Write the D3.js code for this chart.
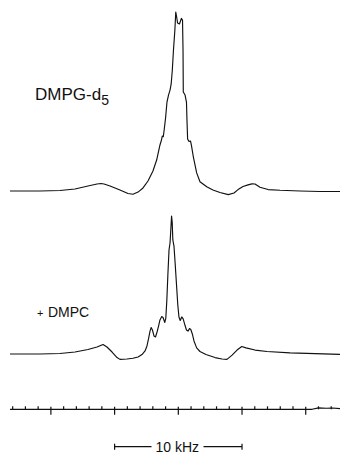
<!DOCTYPE html>
<html>
<head>
<meta charset="utf-8">
<script src="https://cdn.jsdelivr.net/npm/d3@7"></script>
<style>
  body { margin: 0; background: #fff; }
  .trace { fill: none; stroke: #111; stroke-width: 1.15; stroke-linejoin: round; }
  .lbl { font-family: "Liberation Sans", Arial, sans-serif; fill: #111; }
</style>
</head>
<body>
<div id="target"></div>
<script>
// spectra: frequency offset (kHz) and intensity (top peak = 100)
var topFreq = [-13.21,-10.86,-9.29,-8.11,-7.09,-6.38,-6.07,-5.83,-5.36,-4.58,-3.95,-3.56,-3.16,-2.77,-2.38,-1.99,-1.70,-1.44,-1.32,-1.26,-1.18,-1.12,-1.00,-0.89,-0.77,-0.65,-0.56,-0.47,-0.38,-0.27,-0.20,-0.13,-0.06,0.09,0.24,0.33,0.37,0.39,0.53,0.64,0.68,0.73,0.84,0.96,1.04,1.18,1.44,1.70,2.23,2.72,3.27,3.92,4.37,4.69,5.08,5.47,5.78,6.02,6.41,7.04,7.98,9.55,11.12,12.69];
var topInt  = [0,0,0.3,1.1,2.8,3.9,4.2,3.9,2.8,0.6,-1.4,-1.8,-0.6,1.7,5.6,11.2,17.3,25.7,28.5,30.7,30.3,33.5,40.8,49.7,53.6,56.4,59.8,67.6,78.8,89.9,100,97.2,93.9,93.3,96.4,95.5,78.8,55.3,53.6,49.7,39.7,29.1,27.7,27.9,25.1,19.0,10.1,5.2,2.4,0.6,-0.8,-2.0,-1.1,0.8,2.5,3.4,4.0,3.9,2.1,0.8,0.4,0,-0.3,-0.3];

var botFreq = [-13.21,-10.86,-9.29,-8.11,-7.09,-6.38,-5.91,-5.60,-5.20,-4.81,-4.58,-4.03,-3.56,-3.16,-2.85,-2.61,-2.46,-2.34,-2.22,-2.13,-2.03,-1.91,-1.79,-1.67,-1.55,-1.44,-1.30,-1.20,-1.06,-0.98,-0.90,-0.82,-0.73,-0.65,-0.59,-0.53,-0.48,-0.43,-0.34,-0.24,-0.14,-0.04,0.05,0.15,0.27,0.38,0.53,0.64,0.76,0.88,0.98,1.10,1.23,1.44,1.70,2.17,2.88,3.43,3.82,4.22,4.61,4.98,5.31,6.02,6.96,8.77,12.69];
var botInt  = [0,0,0.3,1.1,2.5,3.9,5.3,3.9,1.1,-2.0,-3.0,-2.8,-2.4,-1.7,-0.3,1.7,4.5,8.4,12.8,14.8,13.4,10.1,9.5,12.3,15.6,19.0,20.9,20.4,17.6,20.1,30.2,44.1,58.1,62.0,69.3,77.1,73.7,63.7,60.3,49.7,38.5,27.4,20.7,18.7,20.7,19.6,15.9,13.4,12.8,14.2,13.7,11.2,7.3,3.4,1.4,-0.3,-2.0,-2.8,-3.0,-0.6,2.2,4.2,3.4,2.2,1.4,0.6,-0.2];

// frequency marker trace
var markFreq = [-13.21,10.5,11.0,11.6,12.1,12.69];
var markInt  = [0,0,0.8,0.6,0.7,0.4];
var majorTicks = [-10,-5,0,5,10];
var minorTicks = [-13,-12,-11,-9,-8,-7,-6,-4,-3,-2,-1,1,2,3,4,6,7,8,9,11,12];

var width = 340, height = 455;

// x scale in kHz
var xScale = d3.scaleLinear()
    .domain([-13.21, 12.69])
    .range([10, 340]);

// one intensity scale per trace, same gain
function yFor(base) {
    return d3.scaleLinear().domain([0, 100]).range([base, base - 179]);
}
var yTop = yFor(191), yBot = yFor(354), yMark = yFor(409.3);

var svg = d3.select("#target").append("svg")
    .attr("width", width)
    .attr("height", height);

function drawTrace(freq, inten, yScale) {
    var pts = freq.map(function(f, i) { return [f, inten[i]]; });
    var line = d3.line()
        .x(function(d) { return xScale(d[0]); })
        .y(function(d) { return yScale(d[1]); });
    svg.append("path")
        .datum(pts)
        .attr("class", "trace")
        .attr("d", line);
}

drawTrace(topFreq, topInt, yTop);
drawTrace(botFreq, botInt, yBot);
drawTrace(markFreq, markInt, yMark);

// tick marks on the marker trace
svg.selectAll(".minor")
    .data(minorTicks)
    .enter().append("line")
    .attr("x1", function(d) { return xScale(d); })
    .attr("x2", function(d) { return xScale(d); })
    .attr("y1", yMark(0) - 3)
    .attr("y2", yMark(0))
    .attr("stroke", "#111").attr("stroke-width", 1.2);

svg.selectAll(".major")
    .data(majorTicks)
    .enter().append("line")
    .attr("x1", function(d) { return xScale(d); })
    .attr("x2", function(d) { return xScale(d); })
    .attr("y1", yMark(0) - 2.5)
    .attr("y2", yMark(0) + 5.5)
    .attr("stroke", "#111").attr("stroke-width", 1.2);

// labels
var t1 = svg.append("text").attr("class", "lbl")
    .attr("x", 35).attr("y", 100)
    .style("font-size", "17px");
t1.append("tspan").text("DMPG-d");
t1.append("tspan").attr("dy", 5).style("font-size", "14px").text("5");

svg.append("text").attr("class", "lbl")
    .attr("x", 37).attr("y", 316.5)
    .style("font-size", "11px").text("+");
svg.append("text").attr("class", "lbl")
    .attr("x", 48).attr("y", 316.7)
    .style("font-size", "14px").text("DMPC");

// 10 kHz scale bar
var barY = 446.7;
svg.append("line")
    .attr("x1", xScale(-5)).attr("x2", 151.5)
    .attr("y1", barY).attr("y2", barY)
    .attr("stroke", "#111").attr("stroke-width", 1.2);
svg.append("line")
    .attr("x1", 203.5).attr("x2", xScale(5))
    .attr("y1", barY).attr("y2", barY)
    .attr("stroke", "#111").attr("stroke-width", 1.2);
svg.selectAll(".cap")
    .data([-5, 5])
    .enter().append("line")
    .attr("x1", function(d) { return xScale(d); })
    .attr("x2", function(d) { return xScale(d); })
    .attr("y1", barY - 3).attr("y2", barY + 3)
    .attr("stroke", "#111").attr("stroke-width", 1.2);
svg.append("text").attr("class", "lbl")
    .attr("x", 177.3).attr("y", 451.7)
    .attr("text-anchor", "middle")
    .style("font-size", "14px").text("10 kHz");
</script>
</body>
</html>
